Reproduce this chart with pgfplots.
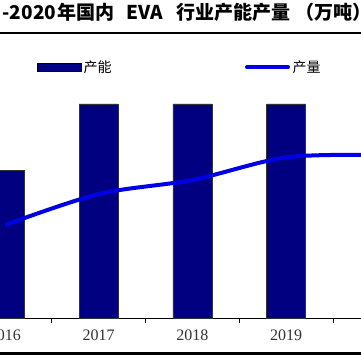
\documentclass[border=0pt]{standalone}
\usepackage{pgfplots}
\pgfplotsset{compat=1.18}
\usepackage{fontspec}
\setmainfont{Liberation Serif}
\newfontfamily\cjk{Noto Sans CJK SC}
\definecolor{barnavy}{RGB}{0,0,128}
\definecolor{lineblue}{RGB}{0,0,230}
\begin{document}
\begin{tikzpicture}[x=1pt,y=1pt]
\useasboundingbox (0,0) rectangle (361,360);
\clip (0,0) rectangle (361,360);
\fill[white] (0,0) rectangle (361,360);
\begin{axis}[
  at={(-41.85pt,42pt)}, anchor=south west,
  scale only axis, width=468.5pt, height=234pt,
  xmin=-0.5, xmax=4.5, ymin=0, ymax=150,
  axis x line*=bottom, axis y line=none,
  x axis line style={black, line width=0.8pt},
  xtick={0,1,2,3,4}, xticklabels={2016,2017,2018,2019,2020},
  major tick length=0pt,
  minor xtick={-0.5,0.5,1.5,2.5,3.5,4.5},
  minor tick length=5pt, tick align=outside,
  every minor tick/.style={black, line width=0.8pt},
  xticklabel style={font=\fontsize{16}{16}\selectfont, text=black!80, inner sep=0pt, yshift=-12pt},
  legend style={draw=none, fill=none, at={(0.1683,1.0726)}, anchor=west,
    inner sep=0pt, outer sep=0pt, font=\cjk\fontsize{14}{14}\selectfont,
    nodes={inner sep=2.5pt},
    /tikz/every even column/.append style={column sep=131pt}},
  legend columns=2,
  clip=false,
]
\addplot[ybar, bar width=39pt, fill=barnavy, draw=black!80, line width=0.5pt,
  legend image code/.code={\filldraw[fill=barnavy, draw=black, line width=0.5pt] (0pt,-4.2pt) rectangle (43.5pt,4.2pt);}]
  coordinates {(0,94.4) (1,137.2) (2,137.2) (3,137.2)};
\addlegendentry{产能}
\addplot[lineblue, line width=4pt, smooth,
  legend image code/.code={\draw[lineblue, line width=4pt, line cap=round] (2pt,0pt) -- (43pt,0pt);}]
  coordinates {(0,59.6) (1,79.5) (2,88.5) (3,103) (4,104.5)};
\addlegendentry{产量}
\end{axis}
\draw[black, line width=2.6pt] (0,327) -- (361,327);
\draw[black, line width=2.4pt] (0,6.5) -- (361,6.5);
\begin{scope}[every node/.style={inner sep=0pt, font=\cjk\bfseries\fontsize{19}{19}\selectfont}]
\node[anchor=base east] at (1,341) {2016};
\node[anchor=base west] at (2.5,341) {-2020};
\node[anchor=base west] at (57,341) {年国内};
\node[anchor=base west] at (126.3,341) {EVA};
\node[anchor=base west] at (176,341) {行业产能产量};
\node[anchor=base west] at (295,341) {（万吨）};
\end{scope}
\end{tikzpicture}
\end{document}
